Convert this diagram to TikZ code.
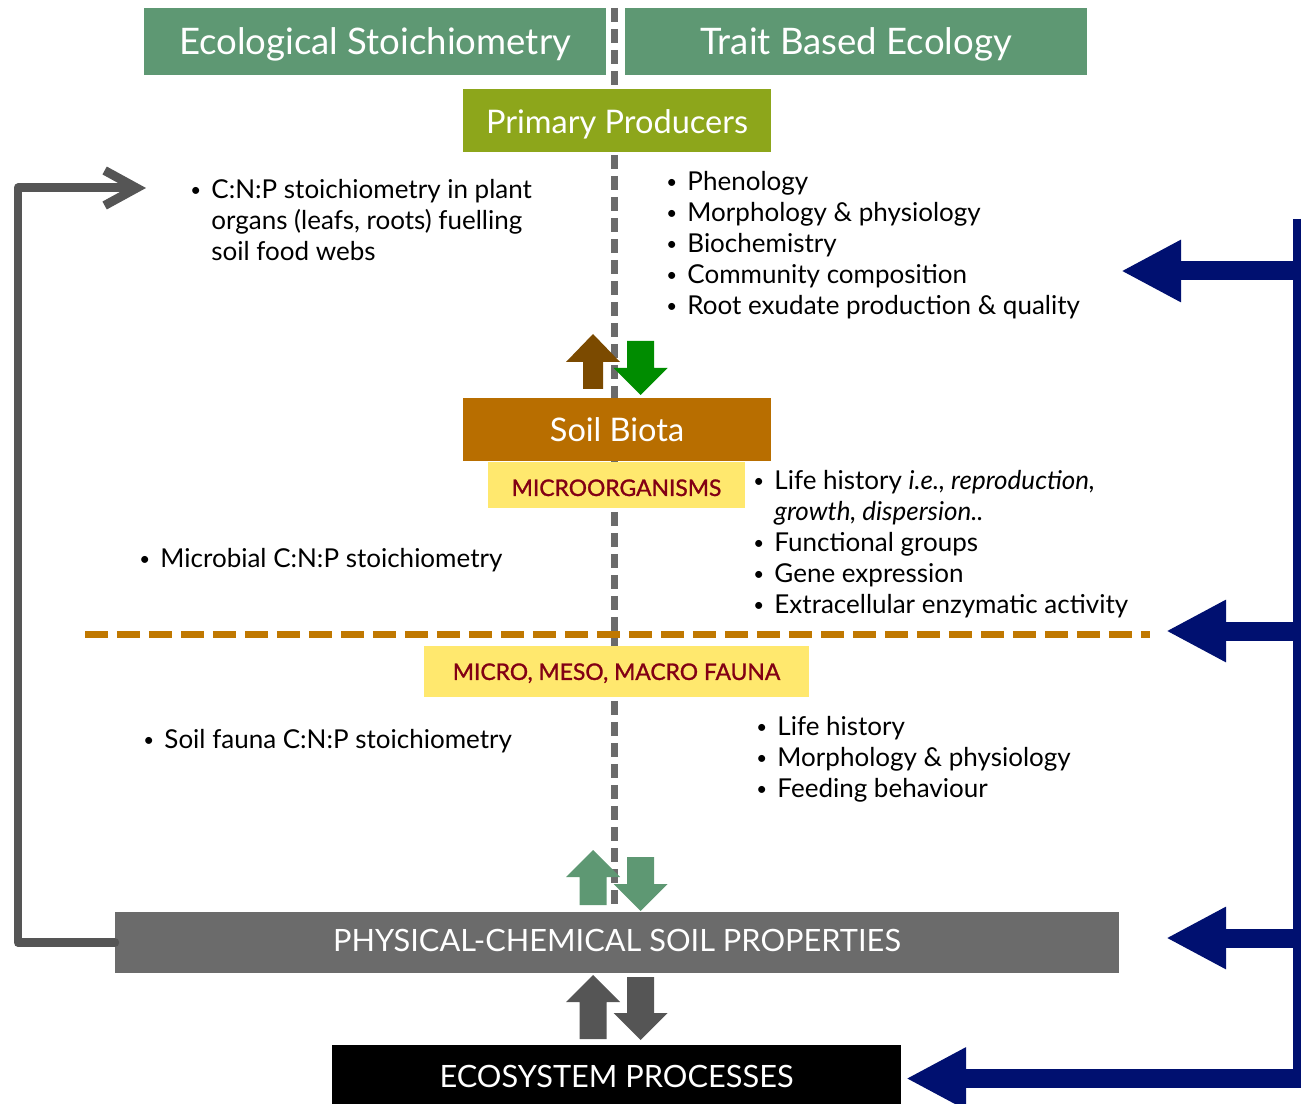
\documentclass[tikz,border=0pt]{standalone}
\usepackage{fontspec}
\setmainfont{Lato}
\newfontfamily\grpfont[FakeBold=1.2]{Lato}
\usetikzlibrary{arrows.meta,positioning}
\definecolor{hdrgreen}{RGB}{94,152,115}
\definecolor{ppolive}{RGB}{141,166,27}
\definecolor{biotabrown}{RGB}{184,110,0}
\definecolor{faunayellow}{RGB}{255,232,110}
\definecolor{faunared}{RGB}{130,0,20}
\definecolor{physgrey}{RGB}{107,107,107}
\definecolor{darkarr}{RGB}{85,85,85}
\definecolor{arrbrown}{RGB}{123,74,0}
\definecolor{arrgreen}{RGB}{0,140,0}
\definecolor{fbblue}{RGB}{0,16,112}
\definecolor{dashorange}{RGB}{192,120,0}
\newcommand{\bitem}{\makebox[12pt][l]{\raisebox{0.9pt}{\scalebox{0.72}{\textbullet}}}}
\newcommand{\bgap}{\hspace*{12pt}}
% block arrows: colour, centre x, tip y, end y, head length, half shaft
\newcommand{\blkup}[6]{\fill[#1] (#2-27,#3+#5) -- (#2,#3) -- (#2+27,#3+#5) -- (#2+#6,#3+#5) -- (#2+#6,#4) -- (#2-#6,#4) -- (#2-#6,#3+#5) -- cycle;}
\newcommand{\blkdown}[6]{\fill[#1] (#2-27,#3-#5) -- (#2,#3) -- (#2+27,#3-#5) -- (#2+#6,#3-#5) -- (#2+#6,#4) -- (#2-#6,#4) -- (#2-#6,#3-#5) -- cycle;}
\begin{document}
\begin{tikzpicture}[x=0.02cm,y=-0.02cm]
	\tikzstyle{box}=[rectangle,inner sep=0,text=white,text depth=0pt]
	\tikzstyle{hdr}=[box,fill=hdrgreen,minimum width=9.24cm,minimum height=1.34cm,text height=15.3pt,font=\fontsize{20.8}{24}\selectfont]
	\tikzstyle{lvl}=[box,minimum width=6.16cm,minimum height=1.26cm,font=\fontsize{18.5}{22}\selectfont]
	\tikzstyle{grp}=[box,fill=faunayellow,text=faunared,font=\grpfont\fontsize{13}{15}\selectfont]
	\tikzstyle{wide}=[box,font=\fontsize{17.5}{20}\selectfont]
	\tikzstyle{txt}=[inner sep=0,anchor=north west,align=left,font=\fontsize{14.8}{17.6}\selectfont]
	\tikzstyle{fbline}=[line width=0.18cm,draw=darkarr,line cap=round,line join=round]
	\tikzstyle{blueshaft}=[line width=0.38cm,draw=fbblue,-{Triangle[length=1.2cm,width=1.16cm]}]
	\useasboundingbox (0,0) rectangle (1301,1104);

	% dividing lines
	\draw[physgrey,line width=0.14cm,dash pattern=on 0.28cm off 0.14cm] (614.5,8) -- (614.5,905);
	\draw[dashorange,line width=0.14cm,dash pattern=on 0.46cm off 0.18cm] (85,634) -- (1150,634);

	% boxes
	\node[hdr] (stoich) at (375,41.5) {Ecological Stoichiometry};
	\node[hdr] (trait) at (856,41.5) {Trait Based Ecology};
	\node[lvl,fill=ppolive,text height=15.3pt] (prod) at (617,120.5) {Primary Producers};
	\node[lvl,fill=biotabrown,text height=14.2pt] (biota) at (617,429.5) {Soil Biota};
	\node[grp,minimum width=5.14cm,minimum height=0.92cm,text height=12.5pt] (micro) at (616.5,485) {MICROORGANISMS};
	\node[grp,minimum width=7.7cm,minimum height=1.02cm,text height=9.6pt] (fauna) at (616.5,671.5) {MICRO, MESO, MACRO FAUNA};
	\node[wide,fill=physgrey,minimum width=20.08cm,minimum height=1.22cm,text height=10.8pt] (phys) at (617,942.5) {PHYSICAL-CHEMICAL SOIL PROPERTIES};
	\node[wide,fill=black,minimum width=11.38cm,minimum height=1.2cm,text height=14.6pt] (eco) at (616.5,1075) {ECOSYSTEM PROCESSES};

	% trait lists
	\node[txt] (prodstoich) at (190,179) {\bitem C:N:P stoichiometry in plant\\ \bgap organs (leafs, roots) fuelling\\ \bgap soil food webs};
	\node[txt] (prodtrait) at (666,171) {\bitem Phenology\\ \bitem Morphology \& physiology\\ \bitem Biochemistry\\ \bitem Community composition\\ \bitem Root exudate production \& quality};
	\node[txt] (microstoich) at (139,548) {\bitem Microbial C:N:P stoichiometry};
	\node[txt] (microtrait) at (753,470) {\bitem Life history \textit{i.e., reproduction,}\\ \bgap\textit{growth, dispersion..}\\ \bitem Functional groups\\ \bitem Gene expression\\ \bitem Extracellular enzymatic activity};
	\node[txt] (faunastoich) at (143,729) {\bitem Soil fauna C:N:P stoichiometry};
	\node[txt] (faunatrait) at (756,716) {\bitem Life history\\ \bitem Morphology \& physiology\\ \bitem Feeding behaviour};

	% block arrows
	\blkup{arrbrown}{593}{334}{389}{28}{10}
	\blkdown{arrgreen}{640.5}{395}{341}{27}{13.5}
	\blkup{hdrgreen}{593}{850}{905}{27}{13.5}
	\blkdown{hdrgreen}{640.5}{911}{857}{27}{13.5}
	\blkup{darkarr}{593}{975}{1039}{27}{13.5}
	\blkdown{darkarr}{640.5}{1040}{977}{27}{13.5}

	% feedback to stoichiometry
	\coordinate (fbtip) at (146,188);
	\draw[fbline,-{Straight Barb[length=0.64cm,width=0.7cm]}] (phys.west) -- (18,942.5) -- (18,188) -- (fbtip);

	% feedback from trait based ecology
	\coordinate (blutop) at (1297,219);
	\coordinate (bluebot) at (1297,1088);
	\coordinate (tipprod) at (1121,271);
	\coordinate (tipbiota) at (1166,631);
	\coordinate (tipphys) at (1166,938);
	\coordinate (tipeco) at (906,1078.5);
	\draw[fbblue,line width=0.16cm] (blutop) -- (bluebot);
	\draw[blueshaft] (1301,271) -- (tipprod);
	\draw[blueshaft] (1301,631) -- (tipbiota);
	\draw[blueshaft] (1301,938) -- (tipphys);
	\draw[blueshaft] (1301,1078.5) -- (tipeco);
\end{tikzpicture}
\end{document}
